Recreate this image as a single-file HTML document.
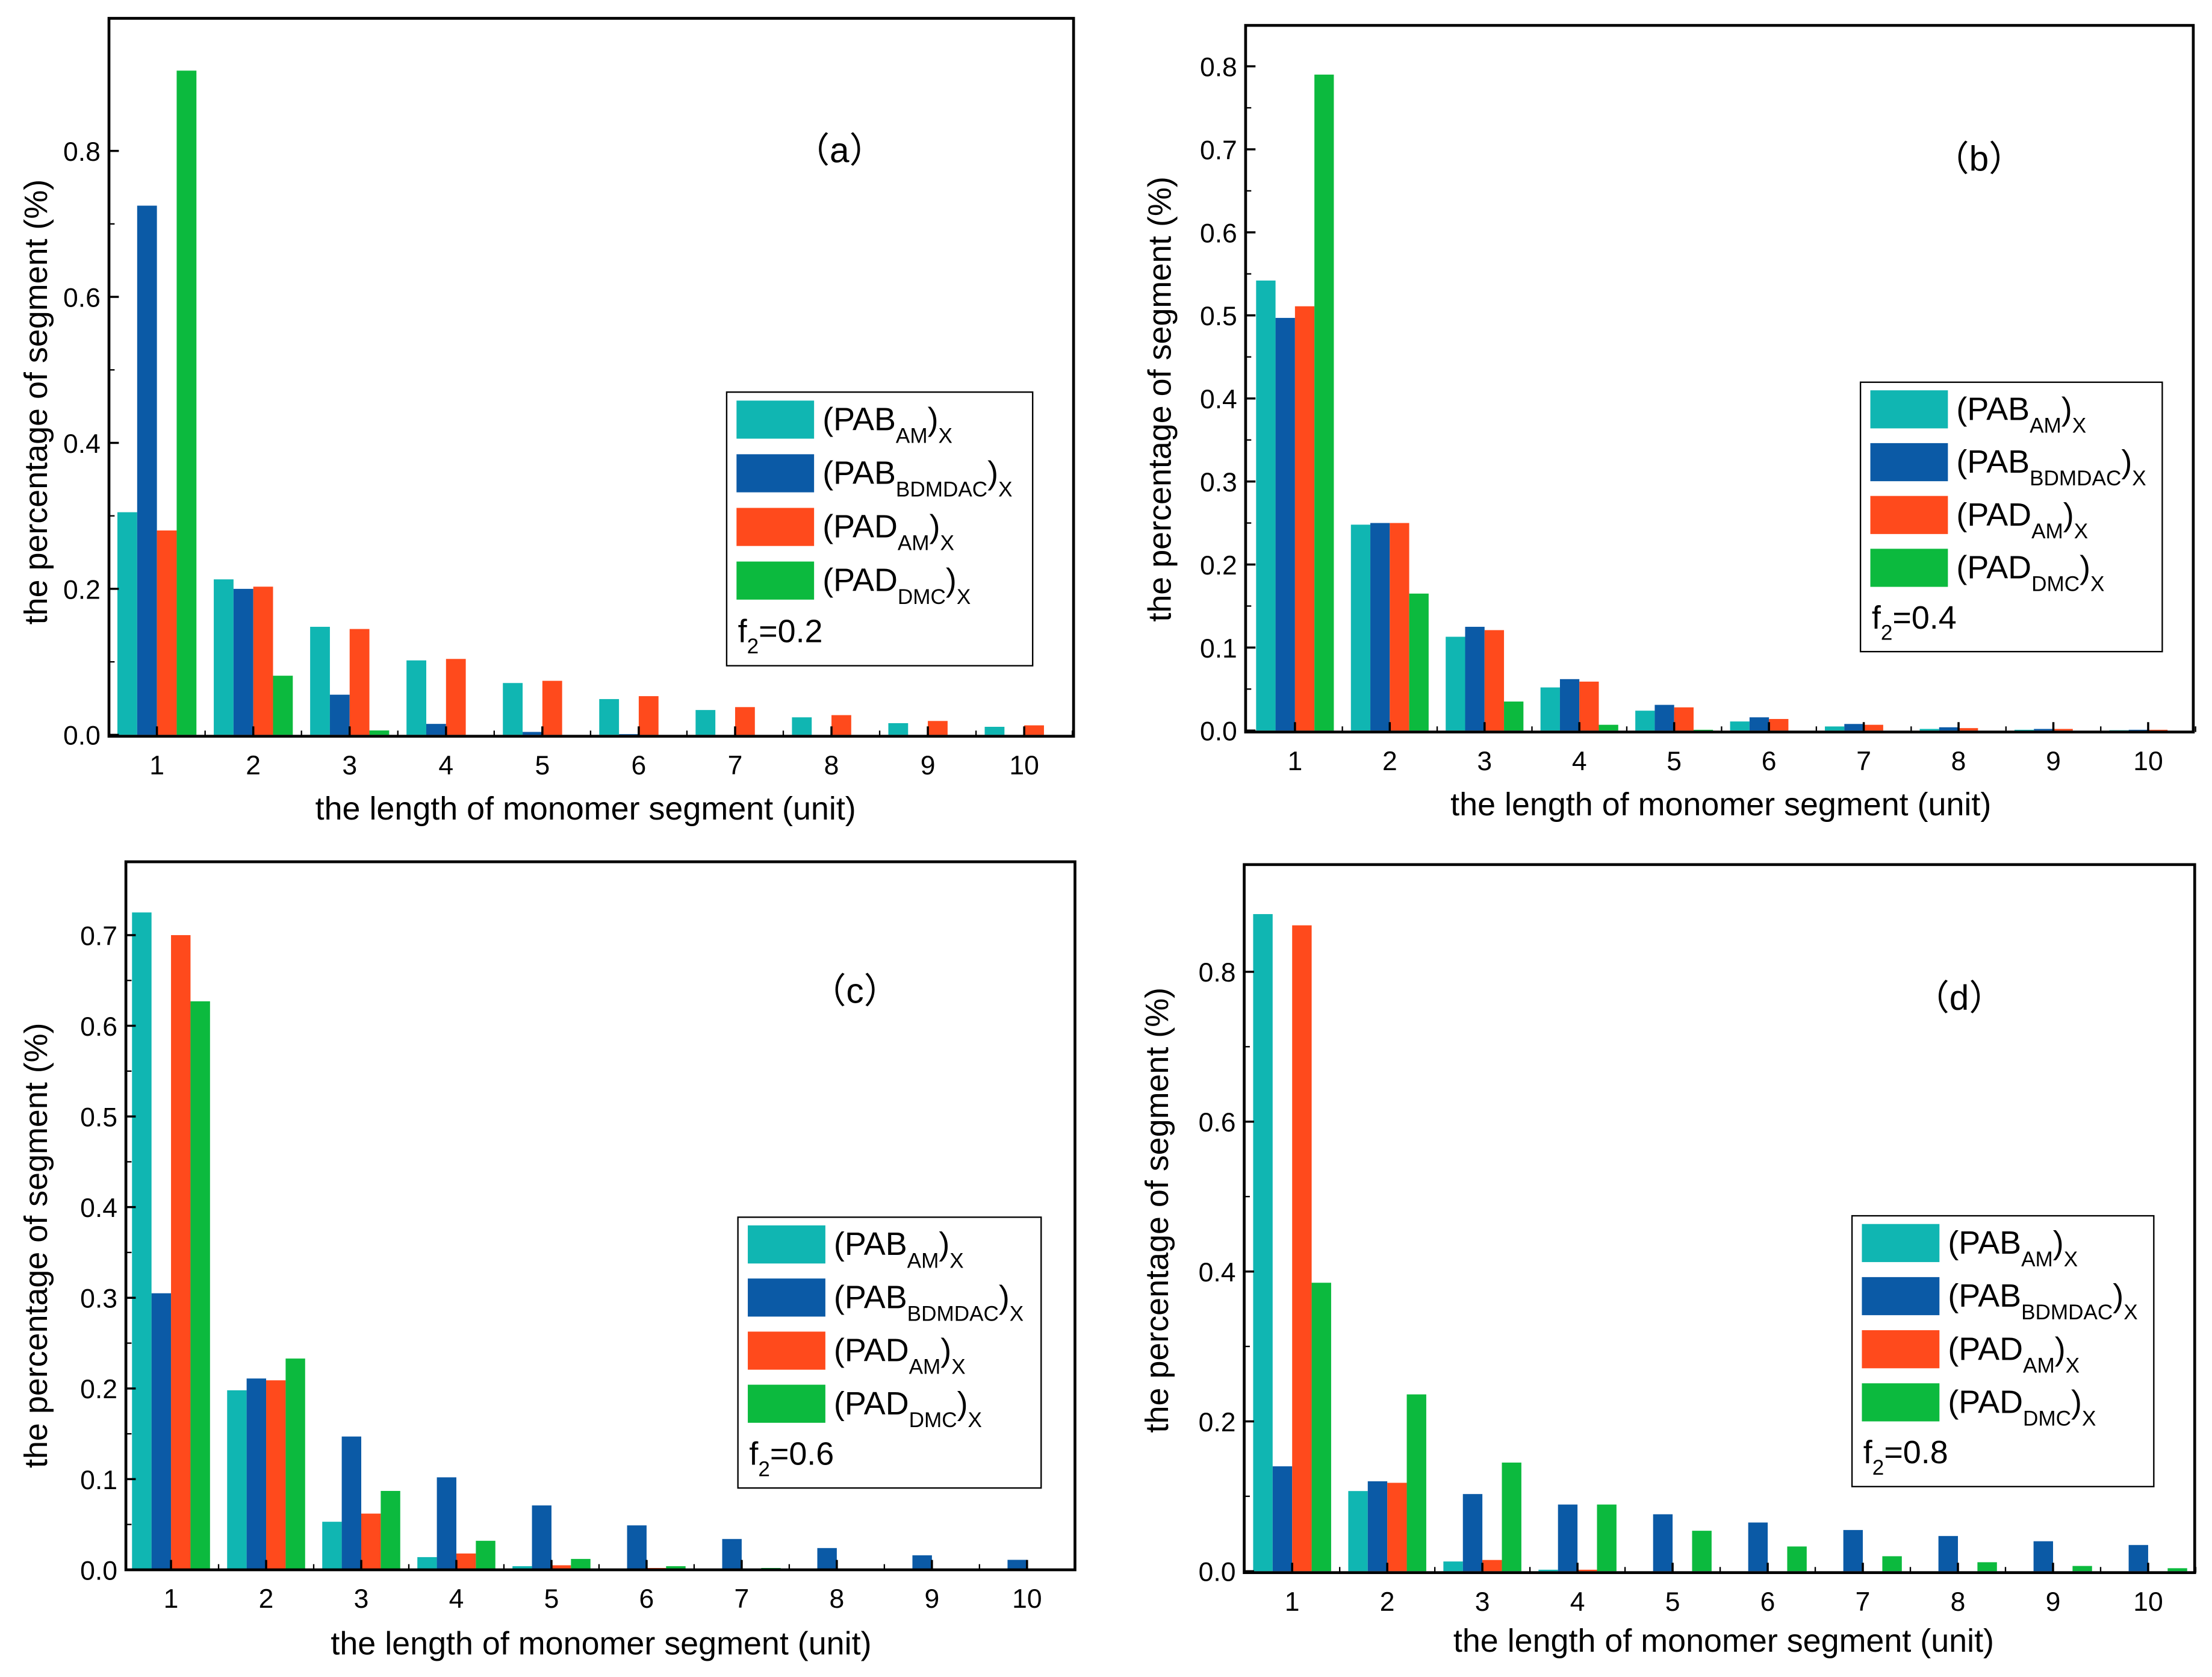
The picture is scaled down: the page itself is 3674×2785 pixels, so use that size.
<!DOCTYPE html>
<html><head><meta charset="utf-8">
<style>
html,body{margin:0;padding:0;background:#fff;}
svg{display:block;}
text{font-family:"Liberation Sans",sans-serif;fill:#000;}
</style></head>
<body>
<svg id="fig" width="3674" height="2785" viewBox="0 0 1568 1189" xmlns="http://www.w3.org/2000/svg"></svg>
<script>
// shared data
const categories = [1,2,3,4,5,6,7,8,9,10];
const seriesNames = ["PAB_AM","PAB_BDMDAC","PAD_AM","PAD_DMC"];
const seriesColors = ["#10b6b2","#0b5aa6","#ff4a1c","#0cba3e"];
// panel a (f2=0.2)
const aCyan  = [0.305,0.213,0.148,0.102,0.071,0.049,0.034,0.024,0.016,0.011];
const aBlue  = [0.725,0.200,0.055,0.015,0.004,0.001,0,0,0,0];
const aRed   = [0.280,0.203,0.145,0.104,0.074,0.053,0.038,0.027,0.019,0.013];
const aGreen = [0.910,0.081,0.006,0,0,0,0,0,0,0];
const aTicks = [0.0,0.2,0.4,0.6,0.8];
// panel b (f2=0.4)
const bCyan  = [0.542,0.248,0.113,0.052,0.024,0.011,0.005,0.002,0.001,0.0005];
const bBlue  = [0.497,0.250,0.125,0.062,0.031,0.016,0.008,0.004,0.002,0.001];
const bRed   = [0.511,0.250,0.121,0.059,0.028,0.014,0.007,0.003,0.002,0.001];
const bGreen = [0.790,0.165,0.035,0.007,0.001,0,0,0,0,0];
const bTicks = [0.0,0.1,0.2,0.3,0.4,0.5,0.6,0.7,0.8];
// panel c (f2=0.6)
const cCyan  = [0.725,0.198,0.053,0.014,0.004,0.001,0,0,0,0];
const cBlue  = [0.305,0.211,0.147,0.102,0.071,0.049,0.034,0.024,0.016,0.011];
const cRed   = [0.700,0.209,0.062,0.018,0.005,0.002,0.001,0,0,0];
const cGreen = [0.627,0.233,0.087,0.032,0.012,0.004,0.002,0.001,0,0];
const cTicks = [0.0,0.1,0.2,0.3,0.4,0.5,0.6,0.7];
// panel d (f2=0.8)
const dCyan  = [0.877,0.107,0.013,0.002,0,0,0,0,0,0];
const dBlue  = [0.140,0.120,0.103,0.089,0.076,0.065,0.055,0.047,0.040,0.035];
const dRed   = [0.862,0.118,0.015,0.002,0,0,0,0,0,0];
const dGreen = [0.385,0.236,0.145,0.089,0.054,0.033,0.020,0.012,0.007,0.004];
const dTicks = [0.0,0.2,0.4,0.6,0.8];

const NS="http://www.w3.org/2000/svg";
const svg=document.getElementById('fig');
function mk(tag,attrs,parent){const e=document.createElementNS(NS,tag);for(const k in attrs)e.setAttribute(k,attrs[k]);(parent||svg).appendChild(e);return e;}

const panels=[
 {id:'a',box:[77,13,761,522],y0:521,yRef:0.8,yRefPx:107,x1:111,x10:726,series:[aCyan,aBlue,aRed,aGreen],ticks:aTicks,dec:1,
  letter:[595,107],leg:[515,278,732,472],f2:'0.2',ytl:[25,285],xtl:[415,581]},
 {id:'b',box:[883,18,1555,519],y0:518,yRef:0.8,yRefPx:47,x1:918,x10:1523,series:[bCyan,bBlue,bRed,bGreen],ticks:bTicks,dec:1,
  letter:[1403,113],leg:[1319,271,1533,462],f2:'0.4',ytl:[822,283],xtl:[1220,578]},
 {id:'c',box:[89,611,762,1113],y0:1113,yRef:0.7,yRefPx:663,x1:121,x10:728,series:[cCyan,cBlue,cRed,cGreen],ticks:cTicks,dec:1,
  letter:[606,703],leg:[523,863,738,1055],f2:'0.6',ytl:[25,883],xtl:[426,1173]},
 {id:'d',box:[882,613,1556,1115],y0:1114,yRef:0.8,yRefPx:689,x1:916,x10:1523,series:[dCyan,dBlue,dRed,dGreen],ticks:dTicks,dec:1,
  letter:[1389,708],leg:[1313,862,1527,1054],f2:'0.8',ytl:[820,858],xtl:[1222,1171]}
];
const subs=["AM","BDMDAC","AM","DMC"];
const mains=["(PAB","(PAB","(PAD","(PAD"];

panels.forEach(p=>{
  const g=mk('g',{});
  
  
  const sp=(p.x10-p.x1)/9;
  const xS=c=>p.x1+(c-1)*sp;
  const yS=v=>p.y0-(v/p.yRef)*(p.y0-p.yRefPx);
  const bw=sp*0.205;
  p.series.forEach((vals,si)=>{
    vals.forEach((v,i)=>{
      const x=xS(categories[i])+(si-2)*bw;
      const y=yS(v);
      const r=mk('rect',{x:x,y:y,width:bw,height:Math.max(0,p.y0-y),fill:seriesColors[si]},g);
      
      
    });
  });
  const [L,T,R,B]=p.box;
  const frame=mk('rect',{x:L,y:T,width:R-L,height:B-T,fill:'none',stroke:'#000','stroke-width':2},g);
  
  
  categories.forEach(c=>{
    const x=xS(c);
    mk('line',{x1:x,y1:B,x2:x,y2:B-7,stroke:'#000','stroke-width':1.5},g);
    mk('line',{x1:x+sp/2,y1:B,x2:x+sp/2,y2:B-4,stroke:'#000','stroke-width':1},g);
    const t=mk('text',{x:x,y:B+27,'font-size':19,'text-anchor':'middle'},g);
    t.textContent=c;
    
    
  });
  p.ticks.forEach((v,i)=>{
    const y=yS(v);
    mk('line',{x1:L,y1:y,x2:L+7,y2:y,stroke:'#000','stroke-width':1.5},g);
    if(i<p.ticks.length-1){const ym=yS((v+p.ticks[i+1])/2);mk('line',{x1:L,y1:ym,x2:L+4,y2:ym,stroke:'#000','stroke-width':1},g);}
    const t=mk('text',{x:L-6,y:y+7,'font-size':19,'text-anchor':'end'},g);
    t.textContent=v.toFixed(p.dec);
    
    
  });
  const xt=mk('text',{x:p.xtl[0],y:p.xtl[1],'font-size':23,'text-anchor':'middle'},g);
  xt.textContent='the length of monomer segment (unit)';
  
  
  const yt=mk('text',{x:0,y:0,'font-size':23,'text-anchor':'middle',transform:`translate(${p.ytl[0]+8},${p.ytl[1]}) rotate(-90)`},g);
  yt.textContent='the percentage of segment (%)';
  
  
  const lt=mk('text',{x:p.letter[0],y:p.letter[1]+8,'font-size':25,'text-anchor':'middle'},g);
  lt.textContent='（'+p.id+'）';
  
  
  const [lL,lT,lR,lB]=p.leg;
  const lg=mk('g',{},g);
  
  
  mk('rect',{x:lL,y:lT,width:lR-lL,height:lB-lT,fill:'#fff',stroke:'#000','stroke-width':1},lg);
  const rh=(lB-lT)/5.1;
  for(let k=0;k<4;k++){
    const cy=lT+rh*0.5+k*rh;
    const sw=mk('rect',{x:lL+7,y:cy-13,width:55,height:27,fill:seriesColors[k]},lg);
    
    
    const t=mk('text',{x:lL+68,y:cy+8,'font-size':23},lg);
    
    
    t.innerHTML=`${mains[k]}<tspan font-size="15" dy="9">${subs[k]}</tspan><tspan dy="-9">)</tspan><tspan font-size="15" dy="9">X</tspan>`;
  }
  const ft=mk('text',{x:lL+8,y:lT+rh*4.45+8,'font-size':23},lg);
  
  
  ft.innerHTML=`f<tspan font-size="15" dy="8">2</tspan><tspan dy="-8">=${p.f2}</tspan>`;
});
</script>
</body></html>
